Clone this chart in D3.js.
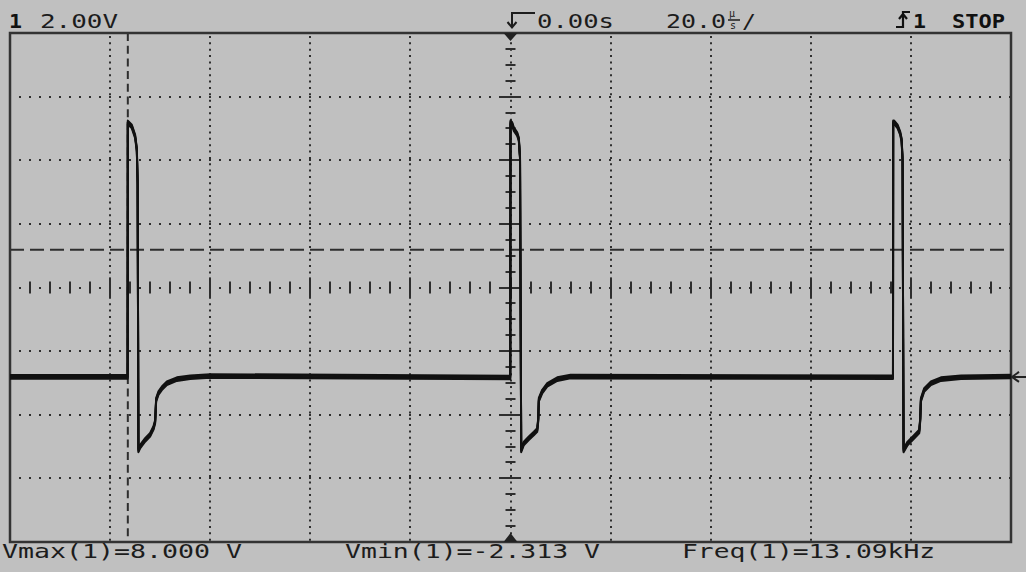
<!DOCTYPE html>
<html>
<head>
<meta charset="utf-8">
<script src="https://cdn.jsdelivr.net/npm/d3@7"></script>
<style>
  body { margin: 0; background: #c0c0c0; }
  svg { display: block; }
  text { font-family: "DejaVu Sans Mono", monospace; font-size: 20px; fill: #1c1c1c; }
  .bold { font-weight: bold; fill: #111; }
</style>
</head>
<body>
<svg id="scope" width="1026" height="572"></svg>
<script>
// scope settings
var voltsPerDiv = 2.0;
var timePerDiv = 20;      // us per division
var centerVolts = 2.81;   // volts at screen centre
var triggerLevel = 4.0;
var cursorTime = -76.46;

// readouts
var chLabel = '1';
var scaleLabel = '2.00V';
var delayLabel = '0.00s';
var timebaseLabel = '20.0';
var trigSource = '1';
var runState = 'STOP';
var readouts = ['Vmax(1)=8.000 V', 'Vmin(1)=-2.313 V', 'Freq(1)=13.09kHz'];
var readoutX = [2, 345, 682];
var readoutW = [240, 255, 253];

// trace, [time us, volts], one list per pulse
var pulse1 = [[-100, 0], [-76.5, 0], [-76.46, 8.0], [-75.66, 7.87], [-75.0, 7.56], [-74.66, 7.14],
  [-74.5, 6.1], [-74.34, -2.31], [-74.0, -2.19], [-73.0, -1.98], [-72.0, -1.82], [-71.34, -1.61],
  [-71.0, -1.41], [-70.8, -0.72], [-70.34, -0.51], [-69.66, -0.36], [-68.66, -0.20], [-66.66, -0.07],
  [-64.0, -0.01], [-60, 0.03]];
var pulse2 = [[-0.05, -0.02], [0, 8.0], [0.34, 7.95], [0.66, 7.79], [1.34, 7.63], [1.66, 7.47],
  [1.9, 6.9], [1.98, 3.7], [2.14, -2.31], [2.66, -2.09], [3.66, -1.93], [4.66, -1.78], [5.34, -1.67],
  [5.54, -1.35], [5.66, -0.72], [6.34, -0.46], [7.34, -0.25], [9.34, -0.07], [12, 0.01]];
var pulse3 = [[76.42, -0.01], [76.46, 8.0], [76.66, 8.0], [77.34, 7.87], [77.86, 7.66], [78.14, 7.45],
  [78.34, 6.82], [78.45, 1.2], [78.54, -2.31], [79.34, -2.09], [80.66, -1.88], [81.66, -1.72],
  [81.86, -1.35], [82.0, -0.72], [82.66, -0.41], [84, -0.20], [86, -0.07], [90, -0.01], [100, 0.01]];

// screen box (note: "top" is taken by window.top)
var boxL = 10, boxR = 1011, boxT = 33, boxB = 542;
var ink = '#2e2e2e';

var svg = d3.select('#scope');

var x = d3.scaleLinear()
  .domain([-5 * timePerDiv, 5 * timePerDiv])
  .range([boxL, boxR]);
var y = d3.scaleLinear()
  .domain([centerVolts - 4 * voltsPerDiv, centerVolts + 4 * voltsPerDiv])
  .range([boxB, boxT]);

var grid = svg.append('g').attr('class', 'grid');

// dotted division lines
var vLines = d3.range(-4, 5).map(function(k) { return k * timePerDiv; });
grid.selectAll('line.v')
  .data(vLines)
  .enter().append('line')
  .attr('x1', function(d) { return Math.round(x(d)); })
  .attr('x2', function(d) { return Math.round(x(d)); })
  .attr('y1', boxT + 3).attr('y2', boxB)
  .attr('stroke', ink).attr('stroke-width', 2)
  .attr('stroke-dasharray', '2,' + ((boxB - boxT) / 80 - 2));

var hLines = d3.range(-3, 4).map(function(k) { return centerVolts + k * voltsPerDiv; });
grid.selectAll('line.h')
  .data(hLines)
  .enter().append('line')
  .attr('y1', function(d) { return Math.round(y(d)); })
  .attr('y2', function(d) { return Math.round(y(d)); })
  .attr('x1', boxL + 9).attr('x2', boxR)
  .attr('stroke', ink).attr('stroke-width', 2)
  .attr('stroke-dasharray', '2,8');

// ticks on the centre axes
var tTicks = d3.range(-96, 100, 4);
grid.selectAll('line.tt')
  .data(tTicks)
  .enter().append('line')
  .attr('x1', function(d) { return Math.round(x(d)); })
  .attr('x2', function(d) { return Math.round(x(d)); })
  .attr('y1', function(d) { return y(centerVolts) - (d % 20 == 0 ? 10 : 6); })
  .attr('y2', function(d) { return y(centerVolts) + (d % 20 == 0 ? 10 : 6); })
  .attr('stroke', ink).attr('stroke-width', 2);

var vTicks = d3.range(-15, 16);
grid.selectAll('line.vt')
  .data(vTicks)
  .enter().append('line')
  .attr('y1', function(d) { return Math.round(y(centerVolts + d * voltsPerDiv / 4)); })
  .attr('y2', function(d) { return Math.round(y(centerVolts + d * voltsPerDiv / 4)); })
  .attr('x1', function(d) { return x(0) - (d % 4 == 0 ? 10 : 5); })
  .attr('x2', function(d) { return x(0) + (d % 4 == 0 ? 10 : 5); })
  .attr('stroke', ink).attr('stroke-width', 2);

// trigger level and time cursor
grid.append('line')
  .attr('x1', boxL).attr('x2', boxR)
  .attr('y1', y(triggerLevel)).attr('y2', y(triggerLevel))
  .attr('stroke', ink).attr('stroke-width', 2)
  .attr('stroke-dasharray', '14,6');
grid.append('line')
  .attr('x1', x(cursorTime)).attr('x2', x(cursorTime))
  .attr('y1', boxT).attr('y2', boxB)
  .attr('stroke', ink).attr('stroke-width', 2)
  .attr('stroke-dasharray', '8,4.7');

// frame
svg.append('rect')
  .attr('x', boxL).attr('y', boxT)
  .attr('width', boxR - boxL).attr('height', boxB - boxT)
  .attr('fill', 'none').attr('stroke', '#333').attr('stroke-width', 2.5);

// trigger position markers
svg.append('path')
  .attr('d', 'M' + (x(0) - 7) + ',' + boxT + 'h14l-7,8z')
  .attr('fill', '#222');
svg.append('path')
  .attr('d', 'M' + (x(0) - 7) + ',' + boxB + 'h14l-7,-9z')
  .attr('fill', '#222');

// ground reference arrow
svg.append('path')
  .attr('d', 'M' + (boxR + 1) + ',' + y(0) + 'H1026M' + (boxR + 8) + ',' + (y(0) - 5) + 'L' + (boxR + 1) + ',' + y(0) + 'L' + (boxR + 8) + ',' + (y(0) + 5))
  .attr('fill', 'none').attr('stroke', '#222').attr('stroke-width', 2);

// trace, drawn a few times with a vertical offset for the noise band
var trace = pulse1.concat(pulse2, pulse3);
var line = d3.line()
  .x(function(d) { return x(d[0]); })
  .y(function(d) { return y(d[1]); });
var traceG = svg.append('g').attr('class', 'trace');
traceG.selectAll('path')
  .data([-1.8, -0.6, 0.6, 1.8])
  .enter().append('path')
  .attr('d', line(trace))
  .attr('transform', function(d) { return 'translate(0,' + d + ')'; })
  .attr('fill', 'none')
  .attr('stroke', '#111')
  .attr('stroke-width', 2)
  .attr('stroke-linejoin', 'round');

// header
svg.append('text').attr('class', 'bold')
  .attr('x', 9).attr('y', 28)
  .attr('textLength', 13).attr('lengthAdjust', 'spacingAndGlyphs')
  .text(chLabel);
svg.append('text')
  .attr('x', 40).attr('y', 28)
  .attr('textLength', 78).attr('lengthAdjust', 'spacingAndGlyphs')
  .text(scaleLabel);

svg.append('path')
  .attr('d', 'M535,13H512V27M507.5,22L512,27.5L516.5,22')
  .attr('fill', 'none').attr('stroke', '#1c1c1c').attr('stroke-width', 2);
svg.append('text')
  .attr('x', 537).attr('y', 28)
  .attr('textLength', 77).attr('lengthAdjust', 'spacingAndGlyphs')
  .text(delayLabel);
svg.append('text')
  .attr('x', 666).attr('y', 28)
  .attr('textLength', 60).attr('lengthAdjust', 'spacingAndGlyphs')
  .text(timebaseLabel);
svg.append('text')
  .attr('x', 729).attr('y', 17).style('font-size', '10px')
  .text('\u00b5');
svg.append('line')
  .attr('x1', 728).attr('x2', 740).attr('y1', 20).attr('y2', 20)
  .attr('stroke', '#1c1c1c').attr('stroke-width', 1.5);
svg.append('text')
  .attr('x', 730).attr('y', 29).style('font-size', '10px')
  .text('s');
svg.append('text')
  .attr('x', 742).attr('y', 28)
  .attr('textLength', 14).attr('lengthAdjust', 'spacingAndGlyphs')
  .text('/');

svg.append('path')
  .attr('d', 'M896,27H903V12H910M899,19L903,14L907,19')
  .attr('fill', 'none').attr('stroke', '#111').attr('stroke-width', 2.2);
svg.append('text').attr('class', 'bold')
  .attr('x', 913).attr('y', 28)
  .attr('textLength', 13).attr('lengthAdjust', 'spacingAndGlyphs')
  .text(trigSource);
svg.append('text').attr('class', 'bold')
  .attr('x', 952).attr('y', 28)
  .attr('textLength', 53).attr('lengthAdjust', 'spacingAndGlyphs')
  .text(runState);

// measurement readouts
svg.selectAll('text.readout')
  .data(readouts)
  .enter().append('text')
  .attr('class', 'readout')
  .attr('x', function(d, i) { return readoutX[i]; })
  .attr('y', 558)
  .attr('textLength', function(d, i) { return readoutW[i]; })
  .attr('lengthAdjust', 'spacingAndGlyphs')
  .text(function(d) { return d; });
</script>
</body>
</html>
